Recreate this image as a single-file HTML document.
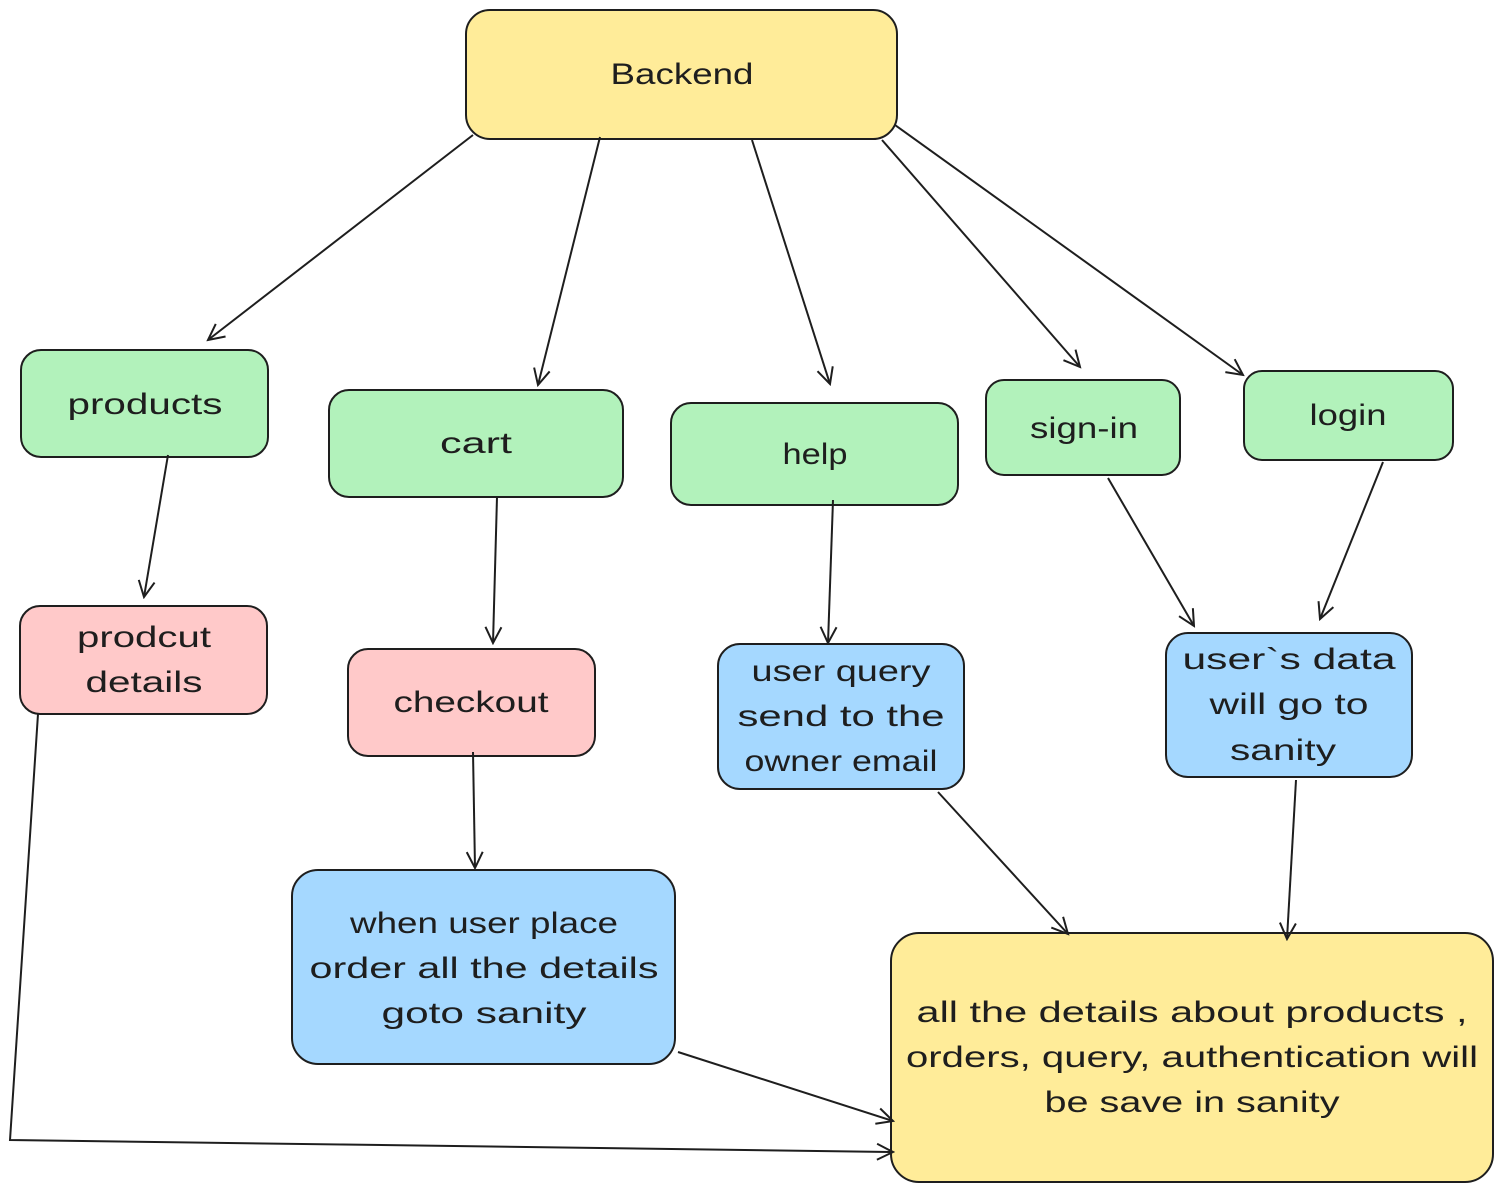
<!DOCTYPE html>
<html><head><meta charset="utf-8"><style>
html,body{margin:0;padding:0;background:#fff;}
svg{display:block;}
text{font-family:"Liberation Sans","DejaVu Sans",sans-serif;font-size:30px;fill:#1e1e1e;text-anchor:middle;}
</style></head><body>
<svg width="1503" height="1192" viewBox="0 0 1503 1192" xmlns="http://www.w3.org/2000/svg">
<defs>
<marker id="a" viewBox="0 0 20 20" refX="18" refY="10" markerWidth="20" markerHeight="20" markerUnits="userSpaceOnUse" orient="auto">
<path d="M2,2 L18,10 L2,18" fill="none" stroke="#1e1e1e" stroke-width="2"/>
</marker>
</defs>
<g stroke="#1e1e1e" stroke-width="2">
<rect x="466" y="10" width="431" height="129" rx="24" fill="#ffec99"/>
<rect x="21" y="350" width="247" height="107" rx="20" fill="#b2f2bb"/>
<rect x="329" y="390" width="294" height="107" rx="20" fill="#b2f2bb"/>
<rect x="671" y="403" width="287" height="102" rx="20" fill="#b2f2bb"/>
<rect x="986" y="380" width="194" height="95" rx="18" fill="#b2f2bb"/>
<rect x="1244" y="371" width="209" height="89" rx="18" fill="#b2f2bb"/>
<rect x="20" y="606" width="247" height="108" rx="20" fill="#ffc9c9"/>
<rect x="348" y="649" width="247" height="107" rx="20" fill="#ffc9c9"/>
<rect x="718" y="644" width="246" height="145" rx="22" fill="#a5d8ff"/>
<rect x="1166" y="633" width="246" height="144" rx="22" fill="#a5d8ff"/>
<rect x="292" y="870" width="383" height="194" rx="26" fill="#a5d8ff"/>
<rect x="891" y="933" width="602" height="249" rx="28" fill="#ffec99"/>
</g>
<g stroke="#1e1e1e" stroke-width="2" fill="none" marker-end="url(#a)">
<line x1="473" y1="135" x2="208" y2="340"/>
<line x1="600" y1="137" x2="538" y2="385"/>
<line x1="752" y1="140" x2="830" y2="384"/>
<line x1="882" y1="140" x2="1080" y2="367"/>
<line x1="895" y1="125" x2="1243" y2="375"/>
<line x1="168" y1="455" x2="144" y2="597"/>
<line x1="497" y1="497" x2="493" y2="643"/>
<line x1="833" y1="500" x2="828" y2="643"/>
<line x1="1108" y1="478" x2="1194" y2="626"/>
<line x1="1383" y1="462" x2="1320" y2="619"/>
<line x1="473" y1="752" x2="475" y2="868"/>
<line x1="938" y1="792" x2="1068" y2="934"/>
<line x1="1296" y1="780" x2="1287" y2="939"/>
<line x1="678" y1="1052" x2="893" y2="1121"/>
<polyline points="38,714 10,1140 893,1152"/>
</g>
<g lengthAdjust="spacingAndGlyphs">
<text x="682" y="84" textLength="143" lengthAdjust="spacingAndGlyphs">Backend</text>
<text x="145" y="414" textLength="155" lengthAdjust="spacingAndGlyphs">products</text>
<text x="476" y="453" textLength="72" lengthAdjust="spacingAndGlyphs">cart</text>
<text x="815" y="464" textLength="65" lengthAdjust="spacingAndGlyphs">help</text>
<text x="1084" y="438" textLength="108" lengthAdjust="spacingAndGlyphs">sign-in</text>
<text x="1348" y="425" textLength="77" lengthAdjust="spacingAndGlyphs">login</text>
<text x="144" y="647" textLength="134" lengthAdjust="spacingAndGlyphs">prodcut</text>
<text x="144" y="692" textLength="117" lengthAdjust="spacingAndGlyphs">details</text>
<text x="471" y="712" textLength="155" lengthAdjust="spacingAndGlyphs">checkout</text>
<text x="841" y="681" textLength="179" lengthAdjust="spacingAndGlyphs">user query</text>
<text x="841" y="726" textLength="207" lengthAdjust="spacingAndGlyphs">send to the</text>
<text x="841" y="771" textLength="193" lengthAdjust="spacingAndGlyphs">owner email</text>
<text x="1289" y="669" textLength="213" lengthAdjust="spacingAndGlyphs">user`s data</text>
<text x="1289" y="714" textLength="159" lengthAdjust="spacingAndGlyphs">will go to</text>
<text x="1283" y="760" textLength="106" lengthAdjust="spacingAndGlyphs">sanity</text>
<text x="484" y="933" textLength="268" lengthAdjust="spacingAndGlyphs">when user place</text>
<text x="484" y="978" textLength="349" lengthAdjust="spacingAndGlyphs">order all the details</text>
<text x="484" y="1023" textLength="205" lengthAdjust="spacingAndGlyphs">goto sanity</text>
<text x="1192" y="1022" textLength="551" lengthAdjust="spacingAndGlyphs">all the details about products ,</text>
<text x="1192" y="1067" textLength="572" lengthAdjust="spacingAndGlyphs">orders, query, authentication will</text>
<text x="1192" y="1112" textLength="295" lengthAdjust="spacingAndGlyphs">be save in sanity</text>
</g>
</svg>
</body></html>
